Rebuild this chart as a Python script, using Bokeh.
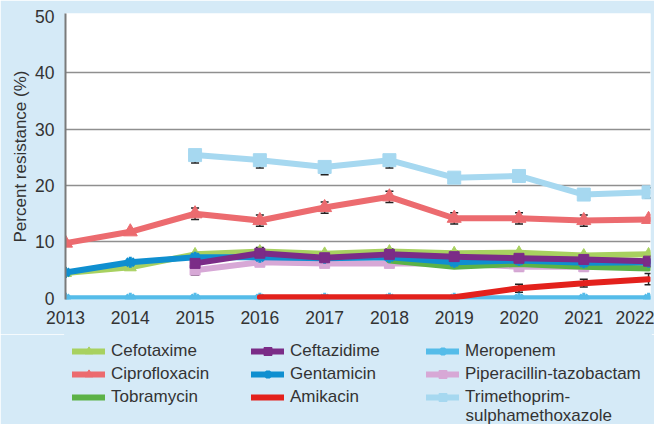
from bokeh.plotting import figure
from bokeh.layouts import column
from bokeh.models import (ColumnDataSource, Legend, LegendItem, Whisker, TeeHead,
                          Label, FixedTicker, Range1d)
from bokeh.embed import file_html
from bokeh.resources import INLINE

# ---------------- data ----------------
years = [2013, 2014, 2015, 2016, 2017, 2018, 2019, 2020, 2021, 2022]
year_labels = ["2013", "2014", "2015", "2016", "2017", "2018", "2019", "2020", "2021", "2022"]
y_ticks = [0, 10, 20, 30, 40, 50]

cefotaxime = [4.5, 5.5, 7.8, 8.3, 7.9, 8.3, 8.0, 8.1, 7.6, 7.8]
ciprofloxacin = [9.8, 11.8, 15.0, 13.8, 16.1, 18.0, 14.2, 14.2, 13.8, 14.0]
tobramycin = [None, None, None, None, None, 6.7, 5.6, 6.1, 5.6, 5.3]
ceftazidime = [None, None, 6.2, 8.0, 7.2, 7.8, 7.4, 7.1, 6.9, 6.6]
gentamicin = [4.6, 6.4, 7.3, 7.3, 7.1, 7.3, 6.4, 6.7, 6.3, 6.4]
amikacin = [None, None, None, 0.2, 0.2, 0.2, 0.2, 1.8, 2.7, 3.4]
meropenem = [0, 0, 0, 0, 0, 0, 0, 0, 0, 0]
piperacillin = [None, None, 5.0, 6.4, 6.2, 6.2, 6.2, 5.6, 5.6, 6.3]
trimethoprim = [None, None, 25.4, 24.5, 23.3, 24.5, 21.4, 21.7, 18.4, 18.8]

# error bars: (amount below, amount above); None = no bar
ciprofloxacin_err = [None, None, (1.0, 1.0), (1.0, 1.0), (1.0, 1.0), (1.0, 1.0),
                     (1.0, 1.0), (1.0, 1.0), (1.0, 1.0), None]
ceftazidime_err = [None, None, (1.0, 1.0), (1.0, 1.0), (1.0, 1.0), (1.0, 1.0),
                   (1.0, 1.0), (1.0, 1.0), (1.0, 1.0), (1.0, 1.0)]
amikacin_err = [None, None, None, None, None, None, None, (0.7, 0.7), (0.7, 0.7), (1.0, 1.0)]
piperacillin_err = [None, None, (0.9, 0.9), (0.7, 0.7), (0.7, 0.7), (0.7, 0.7),
                    (0.7, 0.7), (0.7, 0.7), (0.7, 0.7), (0.7, 0.7)]
trimethoprim_err = [None, None, (1.4, 0.8), (1.4, 0.8), (1.4, 0.8), (1.4, 0.8),
                    (1.0, 0.8), (1.0, 0.8), (1.0, 0.8), (1.0, 0.8)]
no_err = [None] * 10

# name, values, errors, colour, marker, marker size (drawing order: bottom first)
series = [
    ("Meropenem", meropenem, no_err, "#55bce9", "asterisk", 11),
    ("Amikacin", amikacin, amikacin_err, "#e3211c", None, 0),
    ("Piperacillin-tazobactam", piperacillin, piperacillin_err, "#d7a8d6", "square", 10),
    ("Tobramycin", tobramycin, no_err, "#5cb247", None, 0),
    ("Cefotaxime", cefotaxime, no_err, "#a8d160", "triangle", 12),
    ("Gentamicin", gentamicin, no_err, "#0f8fd0", "asterisk", 11),
    ("Ceftazidime", ceftazidime, ceftazidime_err, "#7b2c87", "square", 10),
    ("Ciprofloxacin", ciprofloxacin, ciprofloxacin_err, "#ec6b6f", "triangle", 14),
    ("Trimethoprim-", trimethoprim, trimethoprim_err, "#a6d8f0", "square", 13),
]
legend_columns = [
    ["Cefotaxime", "Ciprofloxacin", "Tobramycin"],
    ["Ceftazidime", "Gentamicin", "Amikacin"],
    ["Meropenem", "Piperacillin-tazobactam", "Trimethoprim-"],
]
label_second_line = "sulphamethoxazole"

FONT = "Liberation Sans"
TXT = "#333333"
BG = "#d5eaf7"
W = 654
LEFT = 65
RIGHT = 4

p = figure(width=W, height=334,
           x_range=Range1d(2013, 2022.03), y_range=Range1d(-0.2, 50.5),
           output_backend="svg", toolbar_location=None,
           min_border_left=LEFT, min_border_right=RIGHT, min_border_top=13,
           min_border_bottom=35,
           background_fill_color="white", border_fill_color=BG,
           outline_line_color=None)

# axes
p.xaxis.ticker = FixedTicker(ticks=years)
p.xaxis.major_label_overrides = {y: l for y, l in zip(years, year_labels)}
p.xaxis.axis_line_color = None
p.xaxis.major_tick_line_color = None
p.xaxis.minor_tick_line_color = None
p.xaxis.major_label_standoff = 5
p.xaxis.major_label_text_font = FONT
p.xaxis.major_label_text_font_size = "17.5px"
p.xaxis.major_label_text_color = TXT

p.yaxis.ticker = FixedTicker(ticks=y_ticks)
p.yaxis.axis_line_color = "#7a7a7a"
p.yaxis.axis_line_width = 2
p.yaxis.major_tick_line_color = None
p.yaxis.minor_tick_line_color = None
p.yaxis.major_label_standoff = 5
p.yaxis.major_label_text_font = FONT
p.yaxis.major_label_text_font_size = "17.5px"
p.yaxis.major_label_text_color = TXT
p.yaxis.axis_label = "Percent resistance (%)"
p.yaxis.axis_label_text_font = FONT
p.yaxis.axis_label_text_font_size = "17px"
p.yaxis.axis_label_text_font_style = "normal"
p.yaxis.axis_label_text_color = TXT
p.yaxis.axis_label_standoff = 2

p.xgrid.visible = False
p.ygrid.ticker = FixedTicker(ticks=[10, 20, 30, 40])
p.ygrid.grid_line_color = "#8f8f8f"
p.ygrid.grid_line_width = 1.5

# legend strip (separate figure so the legend is not clipped by the main frame)
lf = figure(width=W, height=90, x_range=Range1d(0, 1), y_range=Range1d(0, 1),
            x_axis_location=None, y_axis_location=None,
            output_backend="svg", toolbar_location=None,
            min_border_left=LEFT, min_border_right=RIGHT,
            min_border_top=0, min_border_bottom=0,
            background_fill_color=BG, border_fill_color=BG,
            outline_line_color=BG, outline_line_width=3)
lf.grid.visible = False


def draw(fig, src, color, marker, size):
    rs = [fig.line("x", "y", source=src, line_color=color, line_width=6,
                   line_join="round", line_cap="round")]
    if marker == "asterisk":
        rs.append(fig.scatter("x", "y", source=src, marker=marker, size=size,
                              line_color=color, line_width=3))
    elif marker is not None:
        rs.append(fig.scatter("x", "y", source=src, marker=marker, size=size,
                              fill_color=color, line_color=color))
    return rs


legend_renderers = {}
for name, vals, errs, color, marker, size in series:
    xs = [x for x, v in zip(years, vals) if v is not None]
    ys = [v for v in vals if v is not None]
    src = ColumnDataSource(dict(x=xs, y=ys))
    ex = [x for x, v, e in zip(years, vals, errs) if v is not None and e is not None]
    if ex:
        el = [v - e[0] for v, e in zip(vals, errs) if v is not None and e is not None]
        eu = [v + e[1] for v, e in zip(vals, errs) if v is not None and e is not None]
        esrc = ColumnDataSource(dict(base=ex, upper=eu, lower=el))
        w = Whisker(base="base", upper="upper", lower="lower", source=esrc,
                    level="underlay",
                    line_color="#222222", line_width=1.5,
                    upper_head=TeeHead(size=8, line_color="#222222", line_width=1.5),
                    lower_head=TeeHead(size=8, line_color="#222222", line_width=1.5))
        p.add_layout(w)
    draw(p, src, color, marker, size)
    # off-range copy used only for the legend glyphs
    legend_renderers[name] = draw(lf, ColumnDataSource(dict(x=[5, 6], y=[5, 6])),
                                  color, marker, size)

# column offsets relative to the (aligned) frame left edge
col_x = [7, 186, 361]
for cx, names in zip(col_x, legend_columns):
    leg = Legend(items=[LegendItem(label=n, renderers=legend_renderers[n]) for n in names],
                 location=(cx, 17), orientation="vertical",
                 padding=0, margin=0, spacing=3,
                 glyph_width=33, glyph_height=20, label_height=20,
                 label_standoff=6,
                 label_text_font=FONT, label_text_font_size="17px",
                 label_text_color=TXT,
                 background_fill_alpha=0, border_line_alpha=0)
    lf.add_layout(leg)

lf.add_layout(Label(x=400, y=9, x_units="screen", y_units="screen",
                    text=label_second_line, text_font=FONT,
                    text_font_size="17px", text_color=TXT,
                    text_baseline="middle"))

layout = column(p, lf, spacing=0)
open("out.html", "w").write(file_html(layout, INLINE))
